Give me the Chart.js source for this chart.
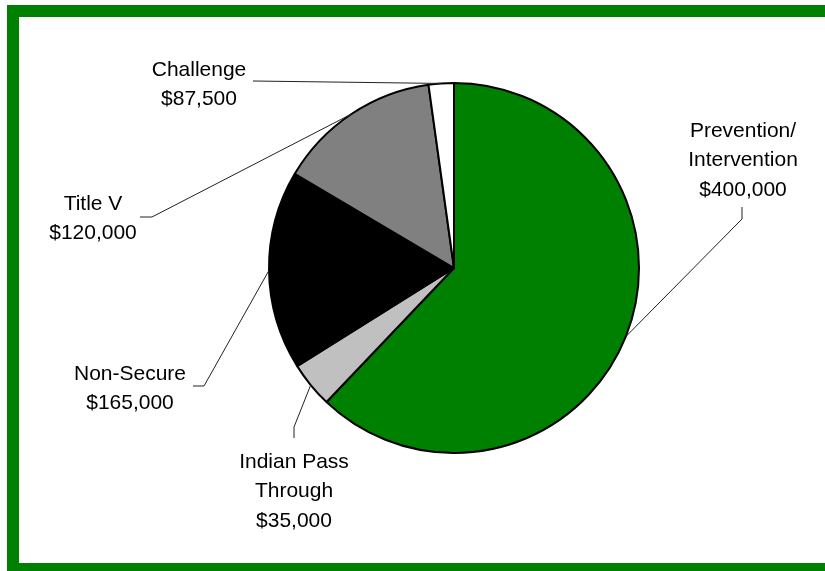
<!DOCTYPE html>
<html>
<head>
<meta charset="utf-8">
<script src="https://cdn.jsdelivr.net/npm/chart.js@4"></script>
<style>
  html, body { margin: 0; padding: 0; background: #fff; }
  canvas { display: block; }
</style>
</head>
<body>
<canvas id="budget_pie" width="825" height="571"></canvas>
<script>
// slice names and the dollar amounts printed on the labels
const categories = ['Prevention/\nIntervention', 'Indian Pass\nThrough', 'Non-Secure', 'Title V', 'Challenge'];
const amounts = [400000, 35000, 165000, 120000, 87500];
// share of the circle each slice takes as drawn (percent)
const sliceShares = [62.1, 4.0, 17.4, 14.3, 2.2];
const sliceColors = ['#008000', '#c0c0c0', '#000000', '#808080', '#ffffff'];

// where each label sits and the elbow of its leader line
const labelLayout = [
  { x: 743, y: 131, lead: [[742, 207], [742, 219]] },
  { x: 294, y: 462, lead: [[294, 438], [294, 427]] },
  { x: 130, y: 374, lead: [[193, 386], [204, 386]] },
  { x: 93,  y: 204, lead: [[140, 217], [152, 217]] },
  { x: 199, y: 70,  lead: [[253, 81]] }
];

const framePlugin = {
  id: 'frame',
  beforeDraw(chart) {
    const ctx = chart.ctx;
    ctx.save();
    ctx.fillStyle = '#ffffff';
    ctx.fillRect(0, 0, chart.width, chart.height);
    ctx.fillStyle = '#008000';
    ctx.fillRect(7, 5, chart.width, 12);
    ctx.fillRect(7, 5, 12, chart.height);
    ctx.fillRect(7, 563, chart.width, 12);
    ctx.restore();
  }
};

const labelPlugin = {
  id: 'sliceLabels',
  afterDraw(chart) {
    const ctx = chart.ctx;
    const arcs = chart.getDatasetMeta(0).data;
    ctx.save();
    ctx.strokeStyle = '#222';
    ctx.lineWidth = 1;
    arcs.forEach((arc, i) => {
      const p = arc.getProps(['x', 'y', 'startAngle', 'endAngle', 'outerRadius'], true);
      const mid = (p.startAngle + p.endAngle) / 2;
      const ex = p.x + Math.cos(mid) * p.outerRadius;
      const ey = p.y + Math.sin(mid) * p.outerRadius;
      const lay = labelLayout[i];
      ctx.beginPath();
      ctx.moveTo(lay.lead[0][0], lay.lead[0][1]);
      lay.lead.slice(1).forEach(pt => ctx.lineTo(pt[0], pt[1]));
      ctx.lineTo(ex, ey);
      ctx.stroke();

      const lines = categories[i].split('\n').concat('$' + amounts[i].toLocaleString('en-US'));
      ctx.fillStyle = '#000';
      ctx.font = '21px "Liberation Sans", Arial, sans-serif';
      ctx.textAlign = 'center';
      ctx.textBaseline = 'middle';
      lines.forEach((t, k) => ctx.fillText(t, lay.x, lay.y + k * 29.5));
    });
    ctx.restore();
  }
};

const ctx = document.getElementById('budget_pie').getContext('2d');
const budgetChart = new Chart(ctx, {
  type: 'pie',
  data: {
    labels: categories,
    datasets: [{
      data: sliceShares,
      backgroundColor: sliceColors,
      borderColor: '#000000',
      borderWidth: 2,
      radius: 185
    }]
  },
  options: {
    responsive: false,
    animation: false,
    layout: { padding: { left: 120, right: 37, top: 20, bottom: 55 } },
    plugins: {
      legend: { display: false },
      tooltip: { enabled: false }
    }
  },
  plugins: [framePlugin, labelPlugin]
});
</script>
</body>
</html>
